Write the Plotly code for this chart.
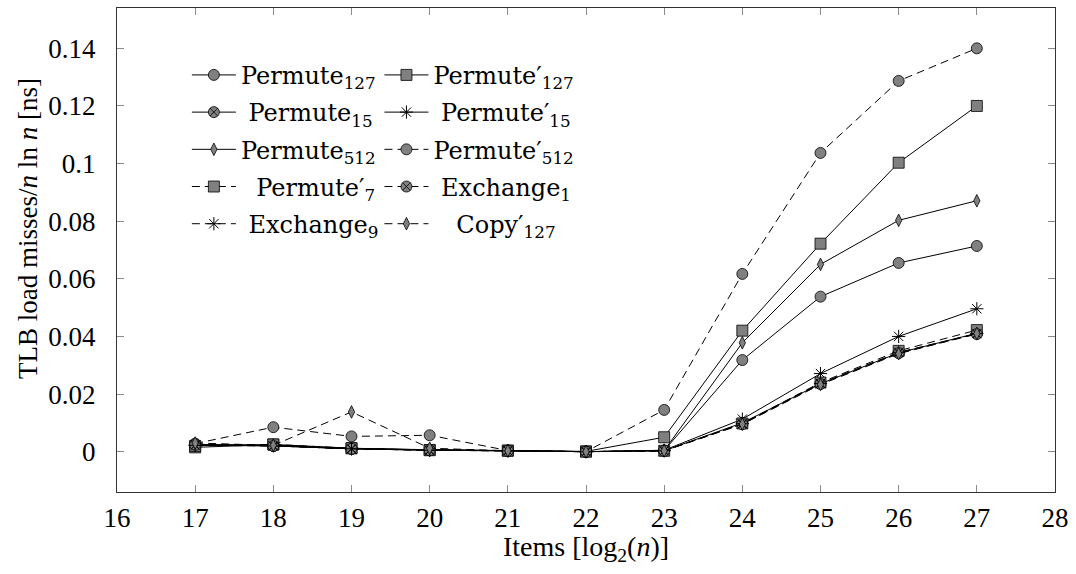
import plotly.graph_objects as go

# x: log2 of the number of items
items_log2 = [17, 18, 19, 20, 21, 22, 23, 24, 25, 26, 27]

# TLB load misses / (n ln n) in ns
permute_127 = [0.0022, 0.0020, 0.0010, 0.0006, 0.0003, 0.0000, 0.0004, 0.0318, 0.0538, 0.0655, 0.0714]
permute_p127 = [0.0015, 0.0025, 0.0012, 0.0006, 0.0004, 0.0001, 0.0050, 0.0420, 0.0722, 0.1003, 0.1200]
permute_15 = [0.0025, 0.0020, 0.0010, 0.0005, 0.0003, 0.0000, 0.0003, 0.0100, 0.0236, 0.0343, 0.0411]
permute_p15 = [0.0023, 0.0022, 0.0010, 0.0005, 0.0003, 0.0000, 0.0005, 0.0113, 0.0271, 0.0400, 0.0496]
permute_512 = [0.0025, 0.0023, 0.0011, 0.0006, 0.0003, 0.0000, 0.0004, 0.0378, 0.0650, 0.0803, 0.0871]
permute_p512 = [0.0028, 0.0085, 0.0053, 0.0057, 0.0004, 0.0000, 0.0145, 0.0617, 0.1037, 0.1287, 0.1400]
permute_p7 = [0.0020, 0.0025, 0.0012, 0.0005, 0.0003, 0.0000, 0.0003, 0.0098, 0.0240, 0.0350, 0.0422]
exchange_1 = [0.0024, 0.0020, 0.0010, 0.0005, 0.0003, 0.0000, 0.0003, 0.0095, 0.0235, 0.0342, 0.0408]
exchange_9 = [0.0022, 0.0020, 0.0010, 0.0005, 0.0003, 0.0000, 0.0003, 0.0097, 0.0237, 0.0345, 0.0410]
copy_p127 = [0.0030, 0.0022, 0.0138, 0.0012, 0.0003, 0.0000, 0.0003, 0.0096, 0.0233, 0.0340, 0.0410]

y_tick_vals = [0, 0.02, 0.04, 0.06, 0.08, 0.1, 0.12, 0.14]
y_tick_text = ["0", "0.02", "0.04", "0.06", "0.08", "0.1", "0.12", "0.14"]
x_tick_vals = list(range(16, 29))

NB = "\u00a0"
GRAY = "#808080"
DASH = "8px,5px"

# (label, values, dash, marker symbol, marker size, legend column)
series = [
    ("Permute<sub>127</sub>", permute_127, "solid", "circle", 11, "legend"),
    ("Permute′<sub>127</sub>", permute_p127, "solid", "square", 11, "legend2"),
    (NB + "Permute<sub>15</sub>", permute_15, "solid", "circle-x", 11, "legend"),
    (NB + "Permute′<sub>15</sub>", permute_p15, "solid", "asterisk-open", 11, "legend2"),
    ("Permute<sub>512</sub>", permute_512, "solid", "diamond-tall", 9, "legend"),
    ("Permute′<sub>512</sub>", permute_p512, DASH, "circle", 11, "legend2"),
    (NB + NB + "Permute′<sub>7</sub>", permute_p7, DASH, "square", 11, "legend"),
    (NB + "Exchange<sub>1</sub>", exchange_1, DASH, "circle-x", 11, "legend2"),
    (NB + "Exchange<sub>9</sub>", exchange_9, DASH, "asterisk-open", 11, "legend"),
    (NB + NB + NB + "Copy′<sub>127</sub>", copy_p127, DASH, "diamond-tall", 9, "legend2"),
]

fig = go.Figure()
for i, (name, vals, dash, symbol, size, leg) in enumerate(series):
    is_star = symbol == "asterisk-open"
    fig.add_trace(go.Scatter(
        x=items_log2, y=vals, name=name, mode="lines+markers",
        legend=leg, legendgroup=f"g{i}",
        line=dict(color="black", width=1, dash=dash),
        marker=dict(symbol=symbol, size=size,
                    color="black" if is_star else GRAY,
                    line=dict(color="black", width=1 if is_star else 0.8)),
    ))

TEXT_FONT = "Liberation Serif"
LEG_FONT = "DejaVu Serif"
axis_common = dict(
    showline=True, linecolor="#333333", linewidth=1, mirror="ticks",
    ticks="inside", ticklen=7, tickwidth=1, tickcolor="#8a8a8a",
    showgrid=False, zeroline=False,
    tickfont=dict(family=TEXT_FONT, size=27, color="black"),
)
legend_common = dict(orientation="v", yanchor="top", xanchor="left",
                     bgcolor="rgba(0,0,0,0)", borderwidth=0, itemwidth=44,
                     tracegroupgap=3,
                     font=dict(family=LEG_FONT, size=24, color="black"))

fig.update_layout(
    width=1076, height=574,
    margin=dict(l=117, r=19, t=7, b=82),
    paper_bgcolor="white", plot_bgcolor="white",
    font=dict(family=TEXT_FONT, color="black"),
    xaxis=dict(range=[16, 28], tickvals=x_tick_vals, ticklabelstandoff=2, **axis_common),
    yaxis=dict(range=[-0.014, 0.154], tickvals=y_tick_vals, ticktext=y_tick_text,
               ticklabelstandoff=15, **axis_common),
    legend=dict(x=0.0745, y=0.9074, **legend_common),
    legend2=dict(x=0.2798, y=0.9074, **legend_common),
    showlegend=True,
    annotations=[
        dict(text="TLB load misses/<i>n</i> ln <i>n</i> [ns]", xref="paper", yref="paper",
             x=-0.0947, y=0.544, xanchor="center", yanchor="middle", textangle=-90,
             showarrow=False, font=dict(family=TEXT_FONT, size=27, color="black")),
        dict(text="Items [log<sub>2</sub>(<i>n</i>)]", xref="paper", yref="paper",
             x=0.5, y=-0.1175, xanchor="center", yanchor="middle",
             showarrow=False, font=dict(family=TEXT_FONT, size=28, color="black")),
    ],
)

fig.write_html("out.html")
